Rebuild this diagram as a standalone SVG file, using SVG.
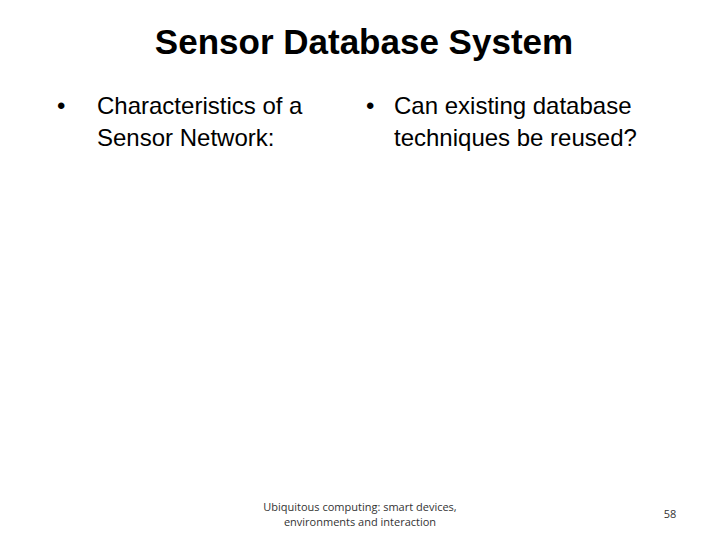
<svg xmlns="http://www.w3.org/2000/svg" width="720" height="540" viewBox="0 0 720 540">
<style>
.t{font-family:"Liberation Sans",Arial,sans-serif;fill:#000}
.b{font-size:24px}
.f{font-family:"Open Sans","Liberation Sans",sans-serif;font-size:11px;fill:#333}
</style>
<rect width="720" height="540" fill="#fff"/>
<g id="title"><text class="t" x="364" y="54" font-size="35" font-weight="bold" text-anchor="middle">Sensor Database System</text></g>
<g id="left">
<text class="t b" x="57" y="114">•</text>
<text class="t b" x="97" y="114">Characteristics of a</text>
<text class="t b" x="97" y="146">Sensor Network:</text>
</g>
<g id="right">
<text class="t b" x="366" y="114">•</text>
<text class="t b" x="394" y="114">Can existing database</text>
<text class="t b" x="394" y="146">techniques be reused?</text>
</g>
<g id="footer">
<text class="f" x="360" y="511" text-anchor="middle">Ubiquitous computing: smart devices,</text>
<text class="f" x="360" y="526" text-anchor="middle">environments and interaction</text>
<text class="f" x="670" y="518" text-anchor="middle">58</text>
</g>
</svg>
